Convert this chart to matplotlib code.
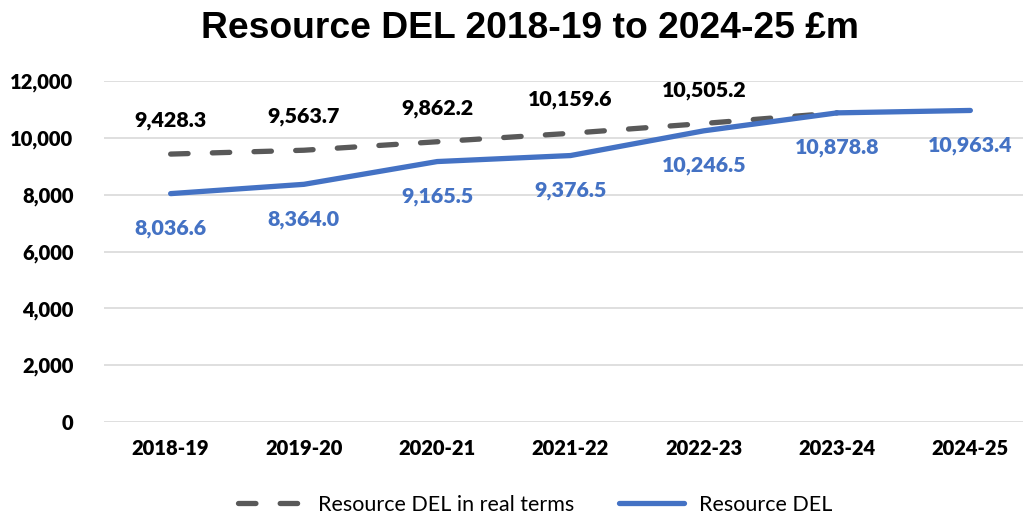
import matplotlib.pyplot as plt
import numpy as np

years = ['2018-19', '2019-20', '2020-21', '2021-22', '2022-23', '2023-24', '2024-25']
real_terms = [9428.3, 9563.7, 9862.2, 10159.6, 10505.2, 10878.8, np.nan]
real_labels = [9428.3, 9563.7, 9862.2, 10159.6, 10505.2]
resource_del = [8036.6, 8364.0, 9165.5, 9376.5, 10246.5, 10878.8, 10963.4]

BLUE = '#4472C4'
GREY = '#595959'
W = 800


def main():
    fig = plt.figure(figsize=(10.23, 5.15), dpi=100)
    ax = fig.add_axes([104 / 1023, 93 / 515, 933 / 1023, 341 / 515])

    x = np.arange(len(years))
    ax.plot(x, real_terms, color=GREY, lw=3.8, dashes=(3.3, 4.6),
            dash_capstyle='round', label='Resource DEL in real terms', zorder=3)
    ax.plot(x, resource_del, color=BLUE, lw=3.8, solid_capstyle='round',
            label='Resource DEL', zorder=4)

    for i, v in enumerate(real_labels):
        ax.annotate(f'{v:,.1f}', (i, v), xytext=(0, 24), textcoords='offset points',
                    ha='center', va='center', fontsize=15.4, fontweight=W,
                    family='Lato', color='black')
    for i, v in enumerate(resource_del):
        ax.annotate(f'{v:,.1f}', (i, v), xytext=(0, -25), textcoords='offset points',
                    ha='center', va='center', fontsize=15.4, fontweight=W,
                    family='Lato', color=BLUE)

    ax.set_xlim(-0.5, len(years) - 0.5)
    ax.set_ylim(0, 12000)
    ax.set_yticks(np.arange(0, 12001, 2000))
    ax.set_yticklabels([f'{t:,}' for t in range(0, 12001, 2000)])
    ax.set_xticks(x)
    ax.set_xticklabels(years)
    for lab in ax.get_xticklabels() + ax.get_yticklabels():
        lab.set_family('Lato')
        lab.set_fontweight(W)
        lab.set_fontsize(14.5)
    ax.tick_params(length=0)
    ax.tick_params(axis='y', pad=22)
    ax.tick_params(axis='x', pad=12)
    ax.grid(axis='y', color='#D9D9D9', lw=1.2)
    ax.set_axisbelow(True)
    for s in ax.spines.values():
        s.set_visible(False)

    fig.text(0.518, 0.945, 'Resource DEL 2018-19 to 2024-25 £m', ha='center', va='center',
             fontsize=26.8, fontweight='bold', family='Liberation Sans')

    fig.legend(loc='center', bbox_to_anchor=(0.523, 0.02), ncol=2, frameon=False,
               prop={'family': 'Lato', 'size': 15.5}, handlelength=3.0, columnspacing=2.1,
               handletextpad=0.7)

    fig.savefig('out.png', dpi=100)


if __name__ == '__main__':
    main()
